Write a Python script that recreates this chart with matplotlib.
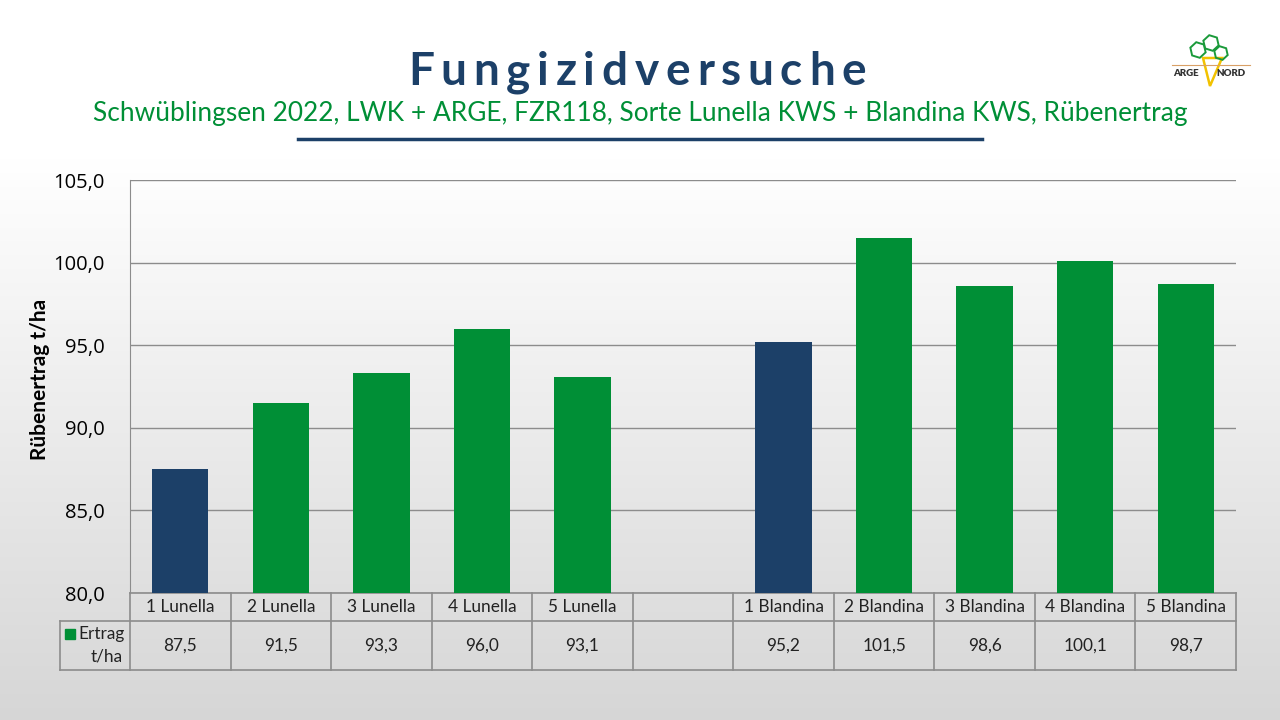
import matplotlib.pyplot as plt
import matplotlib.transforms as mtransforms
import numpy as np

categories = ["1 Lunella", "2 Lunella", "3 Lunella", "4 Lunella", "5 Lunella", "",
              "1 Blandina", "2 Blandina", "3 Blandina", "4 Blandina", "5 Blandina"]
ertrag = [87.5, 91.5, 93.3, 96.0, 93.1, np.nan, 95.2, 101.5, 98.6, 100.1, 98.7]
value_labels = ["87,5", "91,5", "93,3", "96,0", "93,1", "",
                "95,2", "101,5", "98,6", "100,1", "98,7"]
control = [True, False, False, False, False, False, True, False, False, False, False]
y_ticks = [80, 85, 90, 95, 100, 105]

BLUE = "#1c4068"
GREEN = "#008f36"
GRID = "#8c8c8c"
W, H = 1280, 720

plt.rcParams["font.family"] = ["Lato", "DejaVu Sans"]

fig = plt.figure(figsize=(12.8, 7.2), dpi=100)

# background gradient
bg = fig.add_axes([0, 0, 1, 1], zorder=-10)
t = np.linspace(0, 1, 256).reshape(-1, 1)
grad = np.where(t < 0.22, 1.0, 1.0 - (t - 0.22) / 0.78 * 0.16)
bg.imshow(np.dstack([grad, grad, grad]), aspect="auto", extent=[0, 1, 0, 1],
          transform=bg.transAxes, interpolation="bilinear")
bg.set_axis_off()

# title with letter spacing
title = "Fungizidversuche"
renderer = fig.canvas.get_renderer()
chars = [fig.text(0, 0, c, fontsize=33, fontweight="bold", color=BLUE,
                  va="baseline", ha="left") for c in title]
widths = [ch.get_window_extent(renderer).width for ch in chars]
total = 458
gap = (total - sum(widths)) / (len(title) - 1)
xpos = 408
for ch, w in zip(chars, widths):
    ch.set_position((xpos / W, 1 - 85 / H))
    xpos += w + gap

fig.text(0.5, 1 - 113 / H,
         "Schwüblingsen 2022, LWK + ARGE, FZR118, Sorte Lunella KWS + Blandina KWS, Rübenertrag",
         ha="center", va="center", fontsize=18.9, color=GREEN)
fig.add_artist(plt.Line2D([298 / W, 982 / W], [1 - 139 / H] * 2, color=BLUE, lw=2.5))

# logo (simplified)
fig.text(1186 / W, 1 - 73 / H, "ARGE", fontsize=7, fontweight="heavy",
         color="#333333", ha="center", va="center")
fig.text(1231 / W, 1 - 73 / H, "NORD", fontsize=7, fontweight="heavy",
         color="#333333", ha="center", va="center")
fig.add_artist(plt.Line2D([1172 / W, 1250 / W], [1 - 65 / H] * 2, color="#d9a066", lw=0.8))
fig.add_artist(plt.Polygon([[1203 / W, 1 - 58 / H], [1222 / W, 1 - 58 / H],
                            [1210 / W, 1 - 86 / H]], closed=True,
                           fc="none", ec="#f2c200", lw=1.8))
for cx, cy, r in [(1198, 50, 8), (1211, 43, 8), (1221, 53, 7)]:
    fig.add_artist(plt.Polygon([[(cx + r * np.cos(a)) / W, 1 - (cy + r * np.sin(a)) / H]
                                for a in np.linspace(0, 2 * np.pi, 7)[:-1] + 0.3],
                               closed=True, fc="none", ec="#1a9a3a", lw=1.4))

# main axes: x 130..1236, y 180..593 px
left, right, top, bottom = 130, 1236, 180, 593
ax = fig.add_axes([left / W, 1 - bottom / H, (right - left) / W, (bottom - top) / H])
ax.patch.set_alpha(0)

x = np.arange(len(categories))
colors = [BLUE if c else GREEN for c in control]
ax.bar(x, np.nan_to_num(ertrag, nan=80) - 80, bottom=80, width=0.56, color=colors, zorder=3)

ax.set_xlim(-0.5, len(categories) - 0.5)
ax.set_ylim(80, 105)
ax.set_yticks(y_ticks)
ax.set_yticklabels([f"{v:.1f}".replace(".", ",") for v in y_ticks], fontsize=14.5,
                   family=["Open Sans", "DejaVu Sans"])
ax.tick_params(axis="y", length=0, pad=18)
ax.set_xticks([])
ax.yaxis.grid(True, color=GRID, lw=1)
ax.set_axisbelow(True)
for s in ["top", "right", "bottom"]:
    ax.spines[s].set_visible(False)
ax.spines["left"].set_color(GRID)
ax.set_ylabel("Rübenertrag t/ha", fontsize=15, fontweight="bold", va="center")
ax.yaxis.set_label_coords((40 - left) / (right - left), (bottom - 379) / (bottom - top))

# data table under the axes
ah = bottom - top
r1 = -(621 - bottom) / ah
r2 = -(670 - bottom) / ah
trans = mtransforms.blended_transform_factory(ax.transData, ax.transAxes)
col_px = (right - left) / len(categories)
hdr_left = -0.5 - (130 - 60) / col_px
lk = dict(color=GRID, lw=1.2, transform=trans, clip_on=False)
ax.plot([-0.5, 10.5], [0, 0], **lk)
ax.plot([hdr_left, 10.5], [r1, r1], **lk)
ax.plot([hdr_left, 10.5], [r2, r2], **lk)
ax.plot([hdr_left, hdr_left], [r1, r2], **lk)
for b in np.arange(-0.5, 11.0, 1.0):
    ax.plot([b, b], [0, r2], **lk)
for xi, cat, lab in zip(x, categories, value_labels):
    ax.text(xi, r1 / 2, cat, transform=trans, ha="center", va="center", fontsize=12.4,
            color="#222222")
    ax.text(xi, (r1 + r2) / 2, lab, transform=trans, ha="center", va="center",
            fontsize=12.4, color="#222222")
ax.text(hdr_left + 65 / col_px, r1 + (r2 - r1) * 0.27, "Ertrag", transform=trans,
        ha="right", va="center", fontsize=12.4, color="#222222")
ax.text(hdr_left + 63 / col_px, r1 + (r2 - r1) * 0.72, "t/ha", transform=trans,
        ha="right", va="center", fontsize=12.4, color="#222222")
ax.add_patch(plt.Rectangle((hdr_left + 5 / col_px, r1 + (r2 - r1) * 0.27 - 5 / ah),
                           10 / col_px, 10 / ah,
                           transform=trans, color=GREEN, clip_on=False))

fig.savefig("out.png", dpi=100)
plt.close(fig)
